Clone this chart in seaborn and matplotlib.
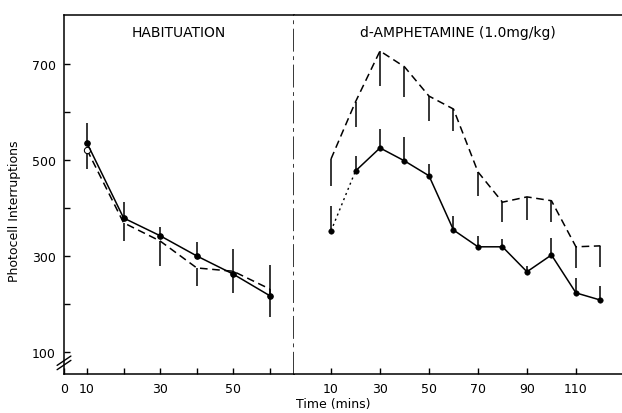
import matplotlib
matplotlib.use("Agg")
import matplotlib.pyplot as plt
import seaborn as sns
import pandas as pd
import numpy as np

# habituation period (left panel)
hab_time = [10, 20, 30, 40, 50, 60]
hab_solid = [535, 379, 342, 300, 262, 217]
hab_solid_upper = [577, 412, 360, 329, 315, 281]
hab_dashed = [521, 369, 331, 275, 268, 231]
hab_dashed_lower = [481, 331, 279, 237, 223, 173]

# d-amphetamine period (right panel)
amph_time = [10, 20, 30, 40, 50, 60, 70, 80, 90, 100, 110, 120]
amph_solid = [352, 477, 525, 498, 467, 354, 319, 319, 267, 302, 223, 208]
amph_solid_upper = [404, 508, 565, 548, 492, 383, 342, 335, 279, 337, 254, 238]
amph_dashed = [502, 621, 727, 694, 633, 606, 475, 412, 423, 415, 319, 321]
amph_dashed_lower = [446, 569, 654, 631, 581, 560, 425, 371, 375, 371, 275, 277]

left_ticks = [10, 30, 50]
right_ticks = [10, 30, 50, 70, 90, 110]
y_ticks = [100, 300, 500, 700]

sns.set_style("ticks")
plt.rcParams["font.family"] = ["DejaVu Sans"]
plt.rcParams["xtick.direction"] = "in"
plt.rcParams["ytick.direction"] = "in"
for key in ("text.color", "axes.labelcolor", "xtick.color", "ytick.color",
            "axes.edgecolor"):
    plt.rcParams[key] = "black"

fig = plt.figure(figsize=(6.22, 4.14), dpi=100)
ax1 = fig.add_axes([0.1029, 0.0942, 0.3698, 0.8672])
ax2 = fig.add_axes([0.4727, 0.0942, 0.5273, 0.8672], sharey=ax1)

hab = pd.DataFrame({"time": hab_time, "solid": hab_solid, "dashed": hab_dashed})
amph = pd.DataFrame({"time": amph_time, "solid": amph_solid, "dashed": amph_dashed})

# left panel
ax1.vlines(hab_time, hab_solid, hab_solid_upper, color="black", lw=1.1)
ax1.vlines(hab_time, hab_dashed_lower, hab_dashed, color="black", lw=1.1)
sns.lineplot(data=hab, x="time", y="dashed", ax=ax1, color="black", lw=1.1,
             linestyle=(0, (5, 3)), marker="o", markevery=[0], markersize=4.5,
             markerfacecolor="white", markeredgecolor="black")
sns.lineplot(data=hab, x="time", y="solid", ax=ax1, color="black", lw=1.1,
             marker="o", markersize=4, markeredgecolor="black")

# right panel
ax2.vlines(amph_time, amph_solid, amph_solid_upper, color="black", lw=1.1)
ax2.vlines(amph_time, amph_dashed_lower, amph_dashed, color="black", lw=1.1)
sns.lineplot(data=amph, x="time", y="dashed", ax=ax2, color="black", lw=1.1,
             linestyle=(0, (5, 3)))
sns.lineplot(data=amph.iloc[:2], x="time", y="solid", ax=ax2, color="black",
             lw=1.0, linestyle=(0, (1.5, 2.5)))
sns.lineplot(data=amph.iloc[1:], x="time", y="solid", ax=ax2, color="black",
             lw=1.1)
sns.scatterplot(data=amph, x="time", y="solid", ax=ax2, color="black", s=16,
                edgecolor="black", zorder=5)

# axes limits / ticks
ax1.set_xlim(3.7, 66.6)
ax2.set_xlim(-5.1, 128.8)
ax1.set_ylim(54, 802)

ax1.set_xticks([3.7] + left_ticks)
ax1.set_xticklabels(["0"] + [str(t) for t in left_ticks])
ax1.set_xticks([20, 40, 60], minor=True)
ax2.set_xticks(right_ticks)
ax2.set_xticklabels([str(t) for t in right_ticks])
ax1.set_yticks(y_ticks)
ax1.set_yticklabels([str(t) for t in y_ticks])
ax1.set_yticks([200, 400, 600], minor=True)

for ax in (ax1, ax2):
    ax.tick_params(axis="both", which="major", length=4, width=1,
                   labelsize=9, pad=6)
    ax.tick_params(axis="both", which="minor", length=4, width=1)
    ax.set_xlabel("")
    ax.set_ylabel("")
    for s in ax.spines.values():
        s.set_linewidth(1.1)
        s.set_color("black")

ax2.tick_params(axis="y", which="both", left=False, labelleft=False)
ax2.spines["left"].set_visible(False)
ax2.spines["right"].set_visible(False)
ax1.spines["right"].set_linestyle((0, (14, 4, 1.5, 4)))
ax1.spines["right"].set_linewidth(1.1)
ax1.spines["right"].set_zorder(6)

# axis break mark on the y axis
for dy in (0.0, 0.012):
    ax1.plot([-0.03, 0.03], [0.012 + dy, 0.038 + dy], transform=ax1.transAxes,
             color="black", lw=1.0, clip_on=False)

ax1.text(0.5, 0.953, "HABITUATION", transform=ax1.transAxes, ha="center",
         va="center", fontsize=10)
ax2.text(0.5, 0.953, "d-AMPHETAMINE (1.0mg/kg)", transform=ax2.transAxes,
         ha="center", va="center", fontsize=10)

fig.text(0.024, 0.49, "Photocell Interruptions", rotation=90, ha="center",
         va="center", fontsize=9)
fig.text(0.535, 0.022, "Time (mins)", ha="center", va="center", fontsize=9)

plt.savefig("out.png", dpi=100)
